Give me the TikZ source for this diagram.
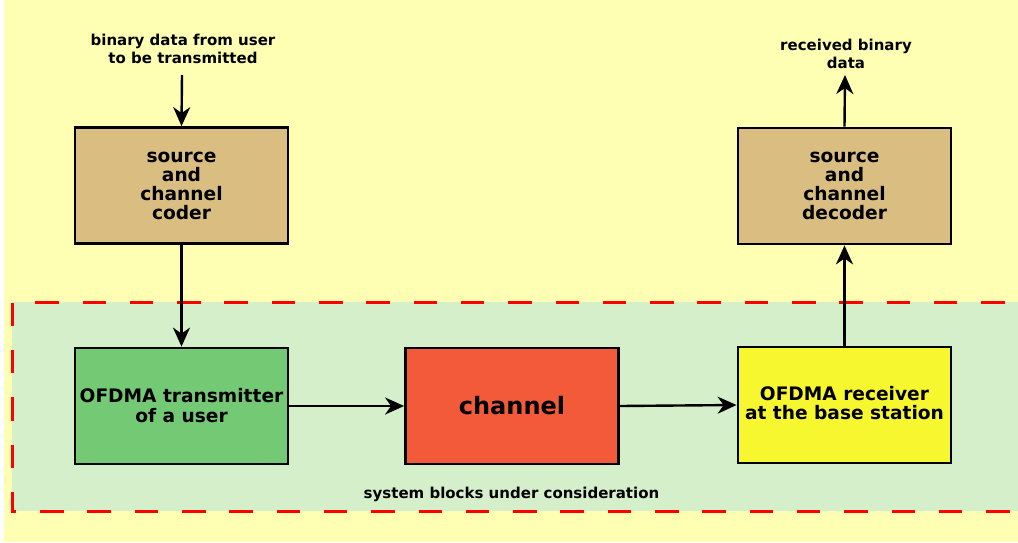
\documentclass[tikz,border=0pt]{standalone}
\usepackage{fontspec}
\setmainfont{DejaVu Sans}
\usetikzlibrary{arrows.meta}

\definecolor{bgyellow}{HTML}{FFFFB3}
\definecolor{zonegreen}{HTML}{D5EFCB}
\definecolor{codertan}{HTML}{D9BD81}
\definecolor{txgreen}{HTML}{74C974}
\definecolor{chred}{HTML}{F25A3A}
\definecolor{rxyellow}{HTML}{F7F72F}
\definecolor{zonered}{HTML}{FF0000}

\tikzset{
  blockbox/.style={draw=black, line width=2.8pt, minimum width=213pt, minimum height=116pt,
    inner sep=0pt, align=center, font=\bfseries\fontsize{18.6}{19}\selectfont},
  flow/.style={draw=black, line width=2.4pt,
    -{Stealth[length=19pt 0 0, width=17pt 0 0, inset=6pt 0]}},
  caption/.style={align=center, inner sep=0pt, font=\bfseries\fontsize{15}{18}\selectfont}
}

\begin{document}
\begin{tikzpicture}[x=1pt, y=-1pt]
  \useasboundingbox (0,0) rectangle (1018,542);
  % page background
  \fill[bgyellow] (4,0) rectangle (1018,542);
  % region of the system blocks, its dashed border runs off the right edge
  \begin{scope}
    \clip (0,0) rectangle (1018,542);
    \fill[zonegreen] (12,302) rectangle (1040,511);
    \draw[zonered, line width=3pt, dash pattern=on 23.5pt off 23.8pt, dash phase=12pt]
      (1040,302) -- (12,302) -- (12,511) -- (1040,511);
  \end{scope}

  % blocks
  \node[blockbox, fill=codertan] (coder) at (181.5,185.5) {source\\and\\channel\\coder};
  \node[blockbox, fill=codertan] (decoder) at (844.5,186) {source\\and\\channel\\decoder};
  \node[blockbox, fill=txgreen] (tx) at (181.5,406) {OFDMA transmitter\\[1pt]of a user};
  \node[blockbox, fill=chred, font=\bfseries\fontsize{24}{28}\selectfont] (ch) at (512,406) {channel};
  \node[blockbox, fill=rxyellow] (rx) at (844.5,405) {OFDMA receiver\\at the base station\\[-14pt]};

  % texts
  \node[caption] (input) at (183,49) {binary data from user\\to be transmitted};
  \node[caption] (output) at (846,54) {received binary\\data};
  \node[caption] (zone) at (511.5,494) {system blocks under consideration};

  % connectors
  \coordinate (inend) at (182,75);
  \coordinate (outend) at (845,75);
  \draw[flow] (inend) -- (coder.north);
  \draw[flow] (coder.south) -- (tx.north);
  \draw[flow] (tx.east) -- (ch.west);
  \draw[flow] (ch.east) -- (rx.west);
  \draw[flow] (rx.north) -- (decoder.south);
  \draw[flow] (decoder.north) -- (outend);
\end{tikzpicture}
\end{document}
